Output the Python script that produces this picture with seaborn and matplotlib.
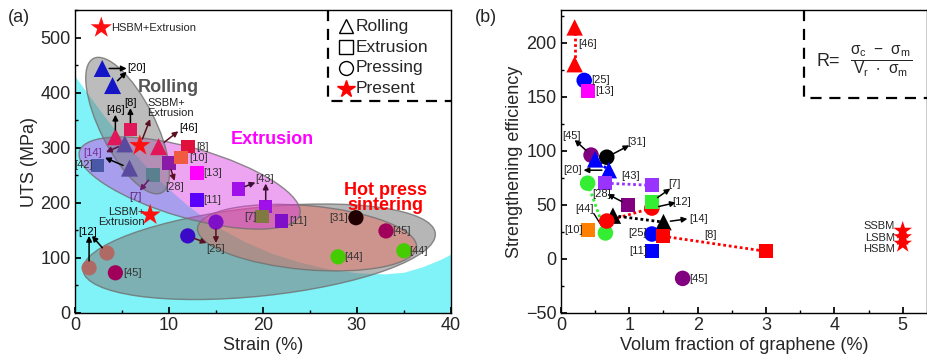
import matplotlib
matplotlib.use("Agg")
import matplotlib.pyplot as plt
import pandas as pd
import seaborn as sns
from matplotlib.patches import Ellipse
from matplotlib.transforms import Affine2D
from matplotlib.ticker import MultipleLocator

# ---------------- panel (a): UTS vs strain ----------------
roll_x = [2.9, 4.0, 4.3, 5.3, 8.9, 5.8]
roll_y = [444, 413, 320, 307, 302, 263]
roll_c = ["#1515c8", "#1515c8", "#e0185a", "#5a4a9e", "#e0185a", "#5a4a9e"]

ext_x = [5.9, 2.4, 8.3, 10.0, 12.0, 11.3, 13.0, 13.0, 17.4, 20.3, 19.9, 22.0]
ext_y = [333, 268, 251, 272, 302, 282, 254, 205, 225, 193, 175, 167]
ext_c = ["#e0185a", "#4a58a8", "#5a8090", "#8a1aa8", "#e0103c", "#f05a40",
         "#ff00ff", "#5a00ff", "#a010e8", "#a010e8", "#807a40", "#8010c8"]

press_x = [1.5, 3.4, 4.3, 12.0, 15.0, 29.9, 33.1, 28.0, 35.0]
press_y = [82, 109, 73, 140, 165, 173, 149, 102, 113]
press_c = ["#b06a66", "#b06a66", "#a0005a", "#3a0ac8", "#8010c8", "#200000",
           "#a0005a", "#44cc00", "#44cc00"]

star_x = [2.8, 6.9, 8.0]
star_y = [518, 304, 178]

# cyan background
cyan_x = [0, 3, 6, 9, 12, 15, 18, 21, 24, 27, 30, 33, 35, 37, 39, 40]
cyan_y = [430, 360, 295, 240, 195, 158, 130, 108, 92, 80, 73, 71, 74, 84, 98, 107]

# text labels: (text, x, y, ha, color)
a_labels = [
    ("[20]", 5.6, 444, "left", "black"), ("[46]", 4.3, 369, "center", "black"),
    ("[8]", 5.9, 382, "center", "black"), ("[46]", 11.1, 336, "left", "black"),
    ("[8]", 12.9, 302, "left", "#333333"), ("[10]", 12.2, 282, "left", "#333333"),
    ("[14]", 2.9, 291, "right", "#7a2a9a"), ("[42]", 1.9, 268, "right", "#333333"),
    ("[7]", 6.4, 211, "center", "#5a2a7a"), ("[28]", 10.6, 229, "center", "#333333"),
    ("[13]", 13.7, 254, "left", "#333333"), ("[11]", 13.7, 205, "left", "#333333"),
    ("[43]", 20.2, 244, "center", "#333333"), ("[7]", 19.3, 175, "right", "#333333"),
    ("[11]", 22.8, 167, "left", "#333333"), ("[12]", 1.3, 147, "center", "black"),
    ("[45]", 5.1, 73, "left", "#333333"), ("[25]", 15.0, 116, "center", "#333333"),
    ("[31]", 29.1, 173, "right", "#333333"), ("[45]", 33.8, 149, "left", "#333333"),
    ("[44]", 28.7, 102, "left", "#333333"), ("[44]", 35.6, 113, "left", "#333333"),
]
# arrows: (from x, from y, to x, to y, color)
a_arrows = [
    (2.9, 444, 5.5, 444, "black"), (4.0, 413, 5.5, 438, "black"),
    (4.3, 320, 4.3, 360, "black"), (5.9, 333, 5.9, 372, "black"),
    (6.9, 304, 8.0, 352, "#5a1020"), (8.9, 302, 11.0, 330, "#5a1020"),
    (5.3, 307, 3.3, 292, "#5a1040"), (5.8, 263, 3.2, 282, "black"),
    (8.3, 251, 6.9, 222, "#6a1a6a"), (10.0, 272, 10.6, 240, "#5a1020"),
    (17.4, 225, 19.2, 237, "#3a1030"), (20.3, 193, 20.3, 235, "#3a1030"),
    (1.5, 82, 1.5, 140, "black"), (3.4, 109, 1.8, 140, "black"),
    (12.0, 140, 14.0, 127, "#5a1020"), (15.0, 165, 15.0, 127, "#5a1020"),
]

# ---------------- panel (b): strengthening efficiency ----------------
b_tri_x = [0.2, 0.2, 0.5, 0.7]
b_tri_y = [214, 180, 92, 82]
b_tri_c = ["#ff0000", "#ff0000", "#0000ff", "#0000ff"]
b_btri_x = [0.76, 1.5]
b_btri_y = [40, 34]

b_sq_x = [0.39, 0.65, 1.33, 0.98, 1.33, 0.39, 1.33, 1.49, 3.0]
b_sq_y = [155, 70, 68, 50, 53, 27, 7, 21, 7]
b_sq_c = ["#ff00ff", "#9933ff", "#9933ff", "#800080", "#33ee33", "#ff8000",
          "#0000ff", "#ff0000", "#ff0000"]

b_ci_x = [0.34, 0.44, 0.67, 0.39, 0.65, 0.67, 1.33, 1.33, 1.78]
b_ci_y = [165, 96, 94, 70, 24, 35, 47, 23, -18]
b_ci_c = ["#0000ff", "#800080", "#000000", "#33ee33", "#33ee33", "#ff0000",
          "#ff0000", "#0000ff", "#800080"]

b_star_x = [5, 5, 5]
b_star_y = [26, 20, 14]
b_star_lab = ["SSBM", "LSBM", "HSBM"]
b_star_lab_y = [30, 19.5, 9.5]

# dotted connections: (x pair, y pair, color)
b_links = [
    ([0.2, 0.2], [214, 180], "#ff0000"), ([0.5, 0.7], [92, 82], "#0000ff"),
    ([0.39, 0.65], [70, 24], "#33ee33"), ([0.65, 1.33], [70, 68], "#9933ff"),
    ([0.67, 1.33], [35, 47], "#ff0000"), ([0.76, 1.5], [40, 34], "#000000"),
    ([1.49, 3.0], [21, 7], "#ff0000"),
]
b_labels = [
    ("[46]", 0.25, 199, "left"), ("[25]", 0.44, 165, "left"), ("[13]", 0.5, 155, "left"),
    ("[45]", 0.15, 114, "center"), ("[31]", 1.11, 108, "center"), ("[20]", 0.31, 82, "right"),
    ("[43]", 1.02, 77, "center"), ("[28]", 0.6, 60, "center"), ("[44]", 0.34, 46, "center"),
    ("[7]", 1.66, 69, "center"), ("[12]", 1.76, 53, "center"), ("[14]", 1.87, 37, "left"),
    ("[10]", 0.32, 27, "right"), ("[25]", 1.26, 24, "right"), ("[11]", 1.26, 7, "right"),
    ("[8]", 2.19, 22, "center"), ("[45]", 1.88, -19, "left"),
]
b_arrows = [
    (0.44, 96, 0.2, 110), (0.67, 94, 1.0, 105), (0.7, 82, 0.33, 82),
    (0.98, 50, 0.68, 60), (1.33, 53, 1.6, 65), (1.33, 47, 1.68, 52),
    (1.5, 34, 1.85, 37),
]

sns.set_theme(style="ticks")
plt.rcParams["font.family"] = ["Liberation Sans", "DejaVu Sans"]
plt.rcParams["mathtext.fontset"] = "dejavusans"

fig = plt.figure(figsize=(9.28, 3.61), dpi=100)
ax1 = fig.add_axes([0.0808, 0.133, 0.405, 0.839])
ax2 = fig.add_axes([0.6045, 0.133, 0.394, 0.839])


def style_axis(ax):
    for s in ax.spines.values():
        s.set_color("black")
        s.set_linewidth(1.0)
    ax.tick_params(which="both", direction="in", labelsize=13, color="black",
                   top=False, right=False, pad=3)
    ax.tick_params(which="major", length=4)
    ax.tick_params(which="minor", length=2)


def arrow(ax, x0, y0, x1, y1, color="black"):
    ax.annotate("", xy=(x1, y1), xytext=(x0, y0),
                arrowprops=dict(arrowstyle="-|>", color=color, lw=1.1,
                                mutation_scale=8, shrinkA=5, shrinkB=0))


# ---- panel (a)
ax1.set_xlim(0, 40)
ax1.set_ylim(0, 550)
ax1.fill_between(cyan_x, 0, cyan_y, color="#7ff3f8", lw=0, zorder=0)

# ellipses drawn in a visually isotropic frame (1 x unit ~ 17.1 MPa on screen)
iso = Affine2D().scale(1, 17.1) + ax1.transData
ellipses = [
    # centre(u, v), width, height, angle, face, alpha
    ((19.6, 6.5), 37.7, 9.4, 6, "#7a7a7a", 0.55),
    ((24.7, 8.0), 23.4, 6.8, -5, "#f06050", 0.4),
    ((12.2, 13.8), 24.4, 7.4, -16, "#d838e0", 0.45),
    ((5.6, 19.9), 16.0, 5.8, -63, "#7a7a7a", 0.5),
]
for (cu, cv), w, h, ang, fc, al in ellipses:
    e = Ellipse((cu, cv), w, h, angle=ang, transform=iso, facecolor=fc,
                alpha=al, edgecolor="none", zorder=1)
    ax1.add_patch(e)
    e2 = Ellipse((cu, cv), w, h, angle=ang, transform=iso, facecolor="none",
                 edgecolor="#707070", lw=1.0, alpha=0.8, zorder=1)
    ax1.add_patch(e2)

df_roll = pd.DataFrame({"x": roll_x, "y": roll_y, "k": range(len(roll_x))})
df_ext = pd.DataFrame({"x": ext_x, "y": ext_y, "k": range(len(ext_x))})
df_pr = pd.DataFrame({"x": press_x, "y": press_y, "k": range(len(press_x))})
sns.scatterplot(data=df_pr, x="x", y="y", hue="k", palette=press_c, marker="o",
                s=120, edgecolor="none", legend=False, ax=ax1, zorder=3)
sns.scatterplot(data=df_ext, x="x", y="y", hue="k", palette=ext_c, marker="s",
                s=95, edgecolor="none", legend=False, ax=ax1, zorder=3)
sns.scatterplot(data=df_roll, x="x", y="y", hue="k", palette=roll_c, marker="^",
                s=150, edgecolor="none", legend=False, ax=ax1, zorder=3)
sns.scatterplot(x=star_x, y=star_y, color="#ff1010", marker="*", s=260,
                edgecolor="none", legend=False, ax=ax1, zorder=4)

for t, x, y, ha, c in a_labels:
    ax1.text(x, y, t, ha=ha, va="center", fontsize=8, color=c, zorder=5)
for x0, y0, x1, y1, c in a_arrows:
    arrow(ax1, x0, y0, x1, y1, c)

ax1.text(3.8, 518, "HSBM+Extrusion", fontsize=8, va="center", ha="left")
ax1.text(7.7, 373, "SSBM+\nExtrusion", fontsize=8, va="center", ha="left",
         linespacing=1.0, color="#222222")
ax1.text(7.4, 174, "LSBM+\nExtrusion", fontsize=8, va="center", ha="right",
         linespacing=1.0, color="#222222")
ax1.text(9.9, 409, "Rolling", fontsize=13, fontweight="bold", color="#555555",
         ha="center", va="center")
ax1.text(21.0, 315, "Extrusion", fontsize=13, fontweight="bold", color="#ff00ff",
         ha="center", va="center")
ax1.text(33.0, 209, "Hot press\nsintering", fontsize=13, fontweight="bold",
         color="#ff0000", ha="center", va="center", linespacing=0.85)

# legend box (dashed)
ax1.plot([0.673, 0.673, 1.0], [1.0, 0.70, 0.70], transform=ax1.transAxes,
         color="black", ls=(0, (5, 3.5)), lw=1.6, clip_on=False, zorder=6)
leg_items = [("^", "none", "Rolling"), ("s", "none", "Extrusion"),
             ("o", "none", "Pressing"), ("*", "#ff0000", "Present")]
for i, (m, fc, t) in enumerate(leg_items):
    yy = 0.947 - i * 0.069
    ec = "#ff0000" if m == "*" else "black"
    ax1.plot([0.722], [yy], marker=m, ms=13 if m == "*" else 10, mfc=fc,
             mec=ec, mew=1.0, transform=ax1.transAxes, zorder=6)
    ax1.text(0.748, yy, t, transform=ax1.transAxes, fontsize=12.5, va="center")

ax1.xaxis.set_major_locator(MultipleLocator(10))
ax1.xaxis.set_minor_locator(MultipleLocator(5))
ax1.yaxis.set_major_locator(MultipleLocator(100))
ax1.yaxis.set_minor_locator(MultipleLocator(50))
ax1.set_xlabel("Strain (%)", fontsize=13, labelpad=2)
ax1.set_ylabel("UTS (MPa)", fontsize=13, labelpad=2)
style_axis(ax1)

# ---- panel (b)
ax2.set_xlim(0, 5.35)
ax2.set_ylim(-50, 230)
for xs, ys, c in b_links:
    ax2.plot(xs, ys, color=c, ls=(0, (1, 1)), lw=2.0, zorder=2)

df_bt = pd.DataFrame({"x": b_tri_x, "y": b_tri_y, "k": range(len(b_tri_x))})
df_bs = pd.DataFrame({"x": b_sq_x, "y": b_sq_y, "k": range(len(b_sq_x))})
df_bc = pd.DataFrame({"x": b_ci_x, "y": b_ci_y, "k": range(len(b_ci_x))})
sns.scatterplot(x=b_btri_x, y=b_btri_y, color="black", marker="^", s=140,
                edgecolor="none", legend=False, ax=ax2, zorder=3)
sns.scatterplot(data=df_bc, x="x", y="y", hue="k", palette=b_ci_c, marker="o",
                s=125, edgecolor="none", legend=False, ax=ax2, zorder=3)
sns.scatterplot(data=df_bt, x="x", y="y", hue="k", palette=b_tri_c, marker="^",
                s=140, edgecolor="none", legend=False, ax=ax2, zorder=3)
sns.scatterplot(data=df_bs, x="x", y="y", hue="k", palette=b_sq_c, marker="s",
                s=100, edgecolor="none", legend=False, ax=ax2, zorder=3)
sns.scatterplot(x=b_star_x, y=b_star_y, color="#ff0000", marker="*", s=200,
                edgecolor="none", legend=False, ax=ax2, zorder=4)

for t, x, y, ha in b_labels:
    ax2.text(x, y, t, ha=ha, va="center", fontsize=8, color="#222222", zorder=5)
for t, y in zip(b_star_lab, b_star_lab_y):
    ax2.text(4.89, y, t, ha="right", va="center", fontsize=8)
for x0, y0, x1, y1 in b_arrows:
    arrow(ax2, x0, y0, x1, y1)
ax2.plot([0.48, 0.6], [42, 30], color="black", lw=1.0, zorder=2)

ax2.plot([0.665, 0.665, 1.0], [1.0, 0.71, 0.71], transform=ax2.transAxes,
         color="black", ls=(0, (5, 3.5)), lw=1.6, clip_on=False, zorder=6)
ax2.text(0.70, 0.83, "R=", transform=ax2.transAxes, fontsize=13, va="center")
ax2.text(0.875, 0.83, r"$\mathregular{\frac{\sigma_c\ -\ \sigma_m}{V_r\ \bullet\ \sigma_m}}$",
         transform=ax2.transAxes, fontsize=16, va="center", ha="center")

ax2.xaxis.set_major_locator(MultipleLocator(1))
ax2.xaxis.set_minor_locator(MultipleLocator(0.5))
ax2.yaxis.set_major_locator(MultipleLocator(50))
ax2.yaxis.set_minor_locator(MultipleLocator(25))
ax2.set_xlabel("Volum fraction of graphene (%)", fontsize=13, labelpad=2)
ax2.set_ylabel("Strengthening efficiency", fontsize=13, labelpad=2)
style_axis(ax2)

fig.text(0.009, 0.94, "(a)", fontsize=13)
fig.text(0.512, 0.94, "(b)", fontsize=13)

fig.savefig("out.png", dpi=100)
